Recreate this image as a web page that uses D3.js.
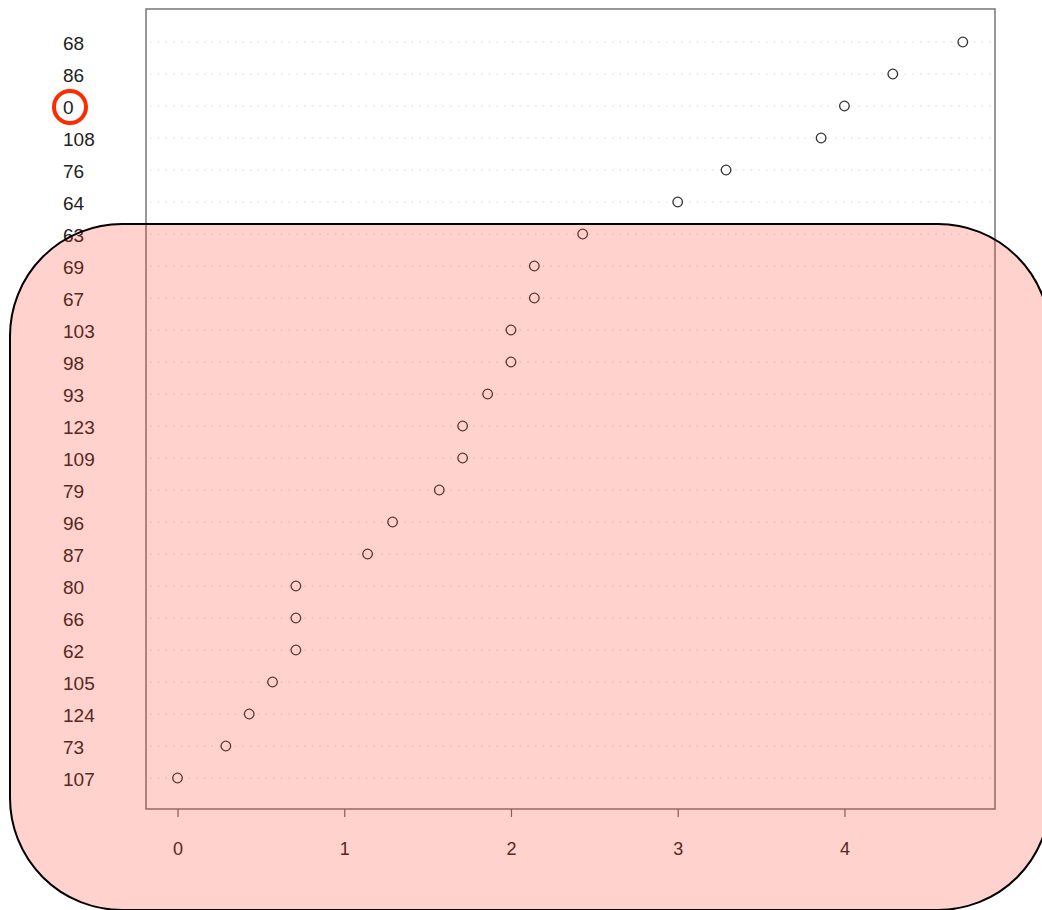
<!DOCTYPE html>
<html><head><meta charset="utf-8">
<script src="https://cdn.jsdelivr.net/npm/d3@7"></script>
<style>body{margin:0;background:#fff}svg{display:block}</style>
</head><body>
<script>
const labels = ["68","86","0","108","76","64","63","69","67","103","98","93","123","109","79","96","87","80","66","62","105","124","73","107"];
const values = [4.71,4.29,4.0,3.86,3.29,3.0,2.43,2.14,2.14,2.0,2.0,1.86,1.71,1.71,1.57,1.29,1.14,0.71,0.71,0.71,0.57,0.43,0.29,0.0];
const xTicks = [0,1,2,3,4];
const highlightLabel = "0";

const W = 1042, H = 910;
const svg = d3.select("body").append("svg").attr("width", W).attr("height", H);
const box = {l:146, r:995, t:9, b:809};
const x = d3.scaleLinear().domain([-0.189, 4.903]).range([box.l, box.r]);
const n = labels.length;
const y = d3.scaleLinear().domain([0, n-1]).range([42, 778]);
const font = "'Liberation Sans', Arial, Helvetica, sans-serif";

// grid dotted lines
svg.append("g").selectAll("line").data(labels).join("line")
  .attr("x1", box.l+4).attr("x2", box.r)
  .attr("y1", (d,i)=>y(i)).attr("y2", (d,i)=>y(i))
  .attr("stroke", "#d6d6d6").attr("stroke-width", 1.2).attr("stroke-dasharray", "1.5,6.2");

// box
svg.append("rect").attr("x", box.l).attr("y", box.t).attr("width", box.r-box.l).attr("height", box.b-box.t)
  .attr("fill","none").attr("stroke","#777").attr("stroke-width",1.5);

// x axis
const xAxis = d3.axisBottom(x).tickValues(xTicks).tickSize(8).tickPadding(25).tickFormat(d3.format("d"));
const ax = svg.append("g").attr("transform", `translate(0,${box.b})`).call(xAxis);
ax.select(".domain").remove();
ax.attr("font-size", null).attr("font-family", null);
ax.selectAll("line").attr("stroke","#666").attr("stroke-width",1.2);
ax.selectAll("text").style("font-family", font).style("font-size", "18px").attr("fill","#222");

// y labels
svg.append("g").selectAll("text").data(labels).join("text")
  .attr("x", 63).attr("y", (d,i)=>y(i)).attr("dy","0.4em")
  .style("font-family", font).style("font-size", "19px").attr("fill","#222")
  .text(d=>d);

// points
svg.append("g").selectAll("circle").data(values).join("circle")
  .attr("cx", d=>x(d)).attr("cy", (d,i)=>y(i)).attr("r", 4.8)
  .attr("fill","none").attr("stroke","#333").attr("stroke-width",1.3);

// highlight circle
const hi = labels.indexOf(highlightLabel);
svg.append("circle").attr("cx", 70).attr("cy", y(hi)+1).attr("r", 16)
  .attr("fill","none").attr("stroke","#ff2a00").attr("stroke-width",4);

// overlay rounded rect
svg.append("rect").attr("x",10).attr("y",224).attr("width",1040).attr("height",686).attr("rx",112).attr("ry",112)
  .attr("fill","rgb(255,60,40)").attr("fill-opacity",0.23).attr("stroke","#000").attr("stroke-width",2);
</script>
</body></html>
